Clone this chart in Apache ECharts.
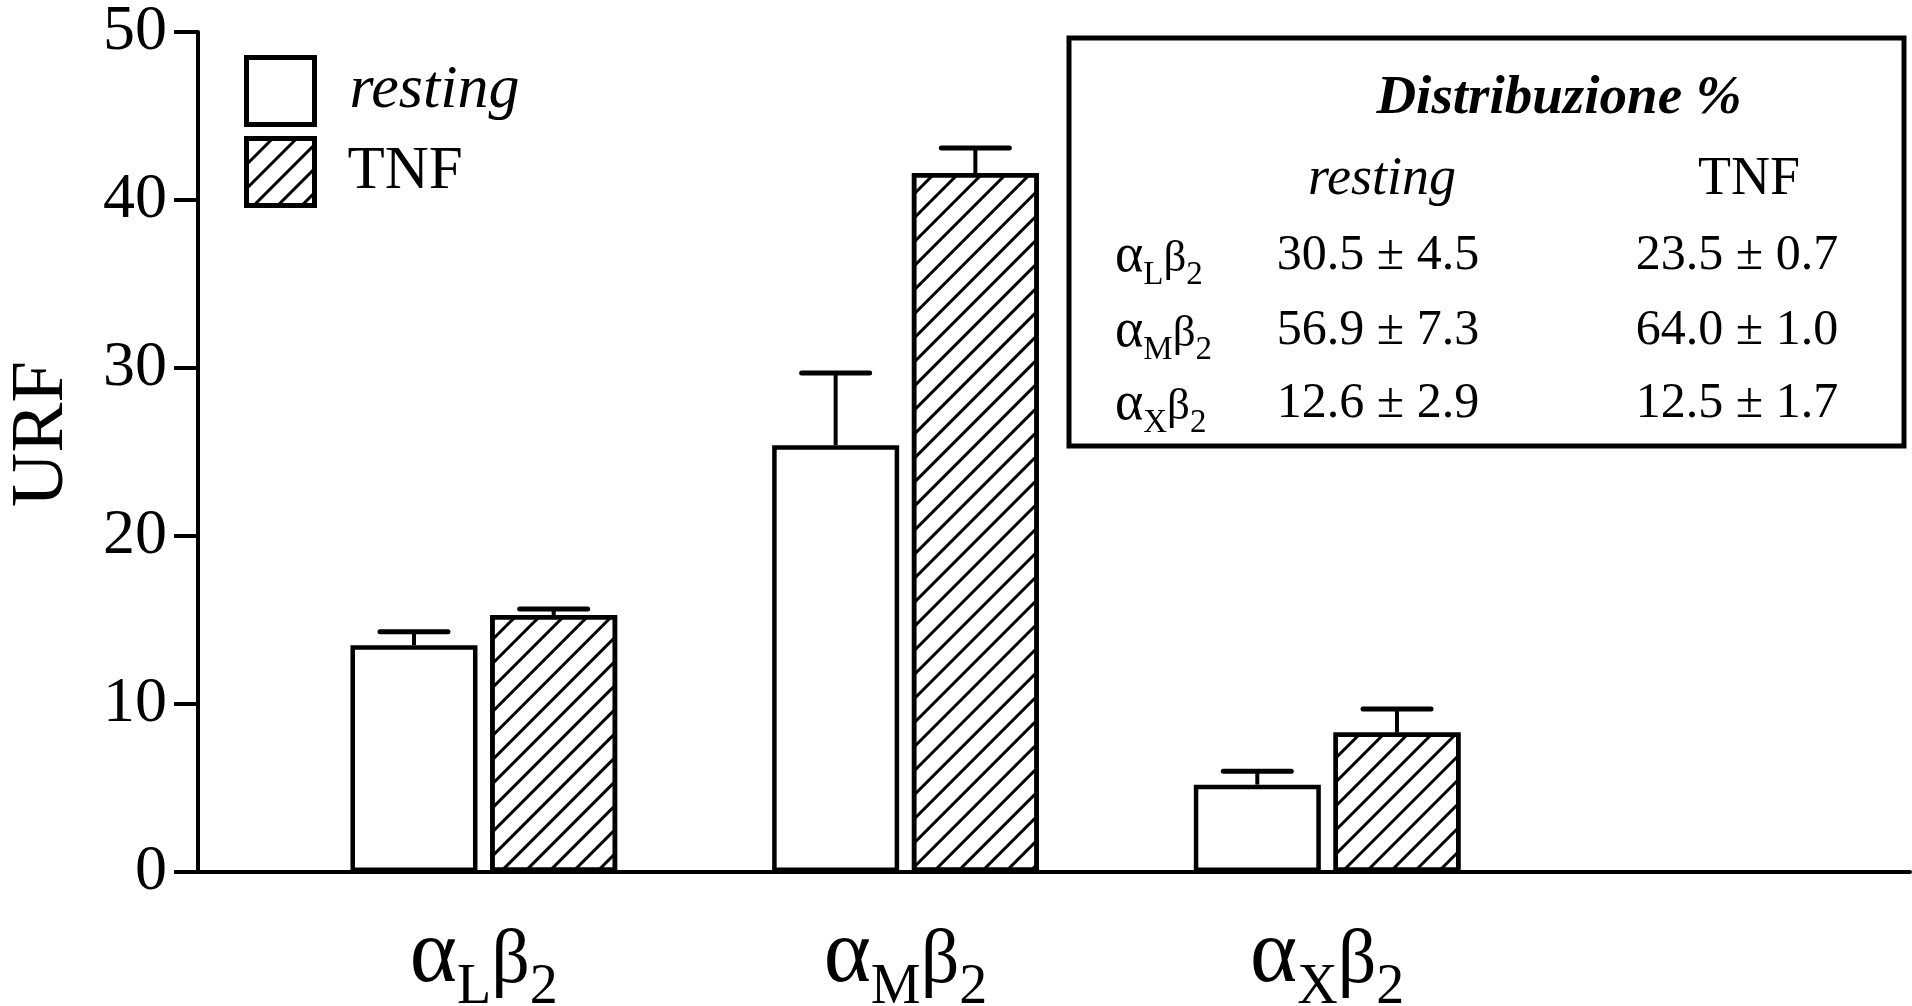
<!DOCTYPE html>
<html>
<head>
<meta charset="utf-8">
<script src="https://cdn.jsdelivr.net/npm/echarts@6/dist/echarts.min.js"></script>
<style>
html,body{margin:0;padding:0;background:#fff;}
#chart{width:1912px;height:1006px;}
</style>
</head>
<body>
<div id="chart"></div>
<script>
// ---- data ----
var categories = ['αLβ2', 'αMβ2', 'αXβ2'];
var seriesNames = ['resting', 'TNF'];
var restingValues = [13.5, 25.4, 5.2];
var restingErrors = [0.8, 4.3, 0.8];
var tnfValues = [15.3, 41.6, 8.3];
var tnfErrors = [0.35, 1.5, 1.4];
var yTicks = [0, 10, 20, 30, 40, 50];
var yAxisName = 'URF';
var tableTitle = 'Distribuzione %';
var tableColumns = ['resting', 'TNF'];
var tableRows = ['αLβ2', 'αMβ2', 'αXβ2'];
var tableResting = ['30.5 ± 4.5', '56.9 ± 7.3', '12.6 ± 2.9'];
var tableTnf = ['23.5 ± 0.7', '64.0 ± 1.0', '12.5 ± 1.7'];

// ---- layout / style ----
var FONT = '"Liberation Serif","Times New Roman",Times,serif';
var BAR_W = 127;
var BAR_GAP_PCT = 10;
var HALF_OFF = (BAR_W + BAR_W * BAR_GAP_PCT / 100) / 2;
var GRID_TOP = 32, GRID_BOTTOM = 134;

function sub(name) {
  var m = name.match(/^α(.)β(\d)$/);
  return '{a|α}{s|' + m[1] + '}{b|β}{s|' + m[2] + '}';
}

function richFor(fa, fb, fs, drop) {
  var base = 0.1625;
  var B = fs * base + drop;
  return {
    a: { fontFamily: FONT, fontSize: fa, lineHeight: fa, color: '#000', verticalAlign: 'bottom', padding: [0, 0, Math.max(0, B - fa * base), 0] },
    b: { fontFamily: FONT, fontSize: fb, lineHeight: fb, color: '#000', verticalAlign: 'bottom', padding: [0, 0, Math.max(0, B - fb * base), 0] },
    s: { fontFamily: FONT, fontSize: fs, lineHeight: fs, color: '#000', verticalAlign: 'bottom' }
  };
}

function errData(vals, errs) {
  return vals.map(function (v, i) { return [i, v, errs[i]]; });
}

function errRender(offset) {
  return function (params, api) {
    var i = api.value(0), v = api.value(1), e = api.value(2);
    var p0 = api.coord([i, v]);
    var p1 = api.coord([i, v + e]);
    var x = p0[0] + offset;
    return {
      type: 'group',
      children: [
        { type: 'line', shape: { x1: x, y1: p0[1], x2: x, y2: p1[1] }, style: { stroke: '#000', lineWidth: 4 } },
        { type: 'line', shape: { x1: x - 34, y1: p1[1], x2: x + 34, y2: p1[1] }, style: { stroke: '#000', lineWidth: 5, lineCap: 'round' } }
      ]
    };
  };
}

var hatch = {
  symbol: 'rect',
  symbolSize: 1,
  color: '#000',
  dashArrayX: [1, 0],
  dashArrayY: [2.6, 13.5],
  rotation: -Math.PI / 4
};

var chart = echarts.init(document.getElementById('chart'), null, { renderer: 'canvas' });

var graphics = [
  { type: 'rect', shape: { x: 1069, y: 38, width: 835, height: 408 }, style: { fill: '#fff', stroke: '#000', lineWidth: 5 }, z: 10 },
  { type: 'text', x: 1559, y: 99, z: 11, style: { text: tableTitle, font: 'italic bold 55px ' + FONT, fill: '#000', textAlign: 'center', textVerticalAlign: 'middle' } },
  { type: 'text', x: 1382, y: 180, z: 11, style: { text: tableColumns[0], font: 'italic 54px ' + FONT, fill: '#000', textAlign: 'center', textVerticalAlign: 'middle' } },
  { type: 'text', x: 1749, y: 180, z: 11, style: { text: tableColumns[1], font: '54px ' + FONT, fill: '#000', textAlign: 'center', textVerticalAlign: 'middle' } }
];
var rowY = [256, 331, 404];
tableRows.forEach(function (r, i) {
  graphics.push({ type: 'text', x: 1115, y: rowY[i] + 9, z: 11, style: {
    text: sub(r), textAlign: 'left', textVerticalAlign: 'middle', fill: '#000',
    rich: richFor(54, 45, 33, 12) } });
  graphics.push({ type: 'text', x: 1378, y: rowY[i], z: 11, style: { text: tableResting[i], font: '50px ' + FONT, fill: '#000', textAlign: 'center', textVerticalAlign: 'middle' } });
  graphics.push({ type: 'text', x: 1737, y: rowY[i], z: 11, style: { text: tableTnf[i], font: '50px ' + FONT, fill: '#000', textAlign: 'center', textVerticalAlign: 'middle' } });
});

var option = {
  backgroundColor: '#fff',
  animation: false,
  textStyle: { fontFamily: FONT, color: '#000' },
  legend: {
    data: seriesNames,
    orient: 'vertical',
    left: 244,
    top: 55,
    padding: 0,
    itemWidth: 68,
    itemHeight: 67,
    itemGap: 9,
    icon: 'rect',
    itemStyle: { borderColor: '#000', borderWidth: 5 },
    formatter: function (n) { return n === 'resting' ? '{i|' + n + '}' : '{n|' + n + '}'; },
    textStyle: {
      rich: {
        i: { fontFamily: FONT, fontStyle: 'italic', fontSize: 62, color: '#000', padding: [0, 0, 0, 30] },
        n: { fontFamily: FONT, fontSize: 61, color: '#000', padding: [0, 0, 0, 28] }
      }
    }
  },
  grid: [
    { left: 273, right: 374, top: GRID_TOP, bottom: GRID_BOTTOM, outerBoundsMode: 'none', containLabel: false },
    { left: 198, right: 2, top: GRID_TOP, bottom: GRID_BOTTOM, outerBoundsMode: 'none', containLabel: false }
  ],
  xAxis: [
    {
      type: 'category', gridIndex: 0, data: categories, boundaryGap: true,
      axisLine: { show: false }, axisTick: { show: false },
      axisLabel: {
        margin: 54,
        formatter: function (v) { return sub(v); },
        rich: richFor(90, 76, 56, 19)
      }
    },
    {
      type: 'value', gridIndex: 1, min: 0, max: 1,
      axisLine: { show: true, onZero: false, lineStyle: { color: '#000', width: 4 } },
      axisTick: { show: false }, axisLabel: { show: false }, splitLine: { show: false }
    }
  ],
  yAxis: [
    { type: 'value', gridIndex: 0, min: 0, max: 50, interval: 10, show: false },
    {
      type: 'value', gridIndex: 1, min: yTicks[0], max: yTicks[yTicks.length - 1], interval: 10,
      name: yAxisName, nameLocation: 'middle', nameGap: 118,
      nameTextStyle: { fontFamily: FONT, fontSize: 75, color: '#000', padding: [0, 0, 0, 36] },
      axisLine: { show: true, lineStyle: { color: '#000', width: 4 } },
      axisTick: { show: true, length: 24, inside: false, lineStyle: { color: '#000', width: 4 } },
      axisLabel: { margin: 31, fontFamily: FONT, fontSize: 64, color: '#000' },
      splitLine: { show: false }
    }
  ],
  series: [
    {
      name: seriesNames[0], type: 'bar', xAxisIndex: 0, yAxisIndex: 0,
      data: restingValues, barWidth: BAR_W, barGap: BAR_GAP_PCT + '%',
      itemStyle: { color: '#fff', borderColor: '#000', borderWidth: 4.5 }
    },
    {
      name: seriesNames[1], type: 'bar', xAxisIndex: 0, yAxisIndex: 0,
      data: tnfValues, barWidth: BAR_W, barGap: BAR_GAP_PCT + '%',
      itemStyle: { color: '#fff', borderColor: '#000', borderWidth: 4.5, decal: hatch }
    },
    {
      type: 'custom', xAxisIndex: 0, yAxisIndex: 0, z: 3,
      renderItem: errRender(-HALF_OFF), data: errData(restingValues, restingErrors),
      encode: { x: 0, y: 1 }, silent: true
    },
    {
      type: 'custom', xAxisIndex: 0, yAxisIndex: 0, z: 3,
      renderItem: errRender(HALF_OFF), data: errData(tnfValues, tnfErrors),
      encode: { x: 0, y: 1 }, silent: true
    }
  ],
  graphic: graphics
};
chart.setOption(option);
</script>
</body>
</html>
